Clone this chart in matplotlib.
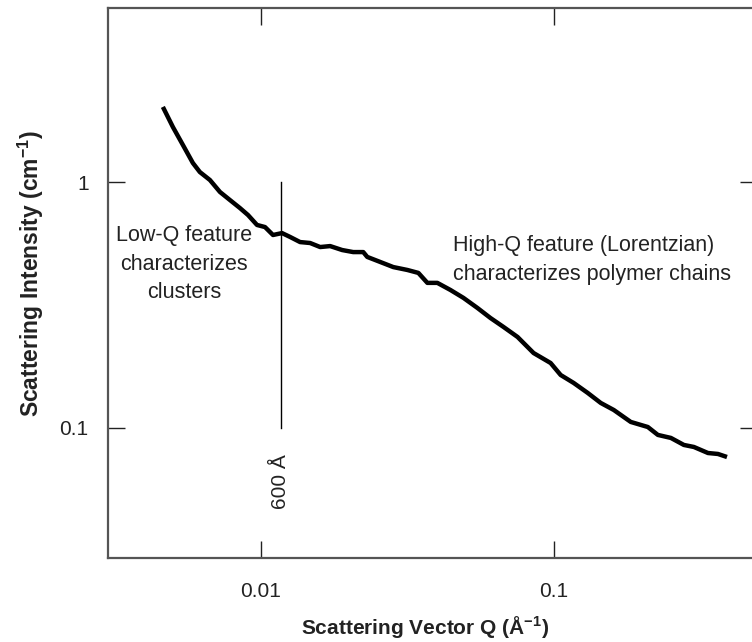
import matplotlib
matplotlib.use("Agg")
import matplotlib.pyplot as plt
from matplotlib.ticker import NullLocator

plt.rcParams['font.family'] = ['Liberation Sans', 'DejaVu Sans']
plt.rcParams['axes.unicode_minus'] = False

q = [0.00462, 0.00500, 0.00541, 0.00585, 0.00618, 0.00669, 0.00724, 0.00783,
     0.00847, 0.00903, 0.00969, 0.01032, 0.01099, 0.01180, 0.01257, 0.01360,
     0.01472, 0.01593, 0.01723, 0.01894, 0.02066, 0.02236, 0.02307, 0.02556,
     0.02832, 0.03162, 0.03450, 0.03703, 0.04006, 0.04439, 0.04918, 0.05492,
     0.06083, 0.06743, 0.07530, 0.08541, 0.09766, 0.1057, 0.1171, 0.1308,
     0.1449, 0.1606, 0.1835, 0.2099, 0.2271, 0.2516, 0.2787, 0.3016, 0.3369,
     0.3644, 0.3913]
intensity = [2.02, 1.673, 1.414, 1.195, 1.098, 1.019, 0.911, 0.845,
             0.784, 0.734, 0.669, 0.656, 0.609, 0.620, 0.598, 0.570,
             0.565, 0.544, 0.549, 0.529, 0.519, 0.519, 0.496, 0.473,
             0.451, 0.439, 0.427, 0.389, 0.389, 0.364, 0.338, 0.3075,
             0.280, 0.2574, 0.2344, 0.2017, 0.1837, 0.1642, 0.1524, 0.1388,
             0.1264, 0.1183, 0.1058, 0.1009, 0.0937, 0.0911, 0.0853, 0.0837, 0.0791,
             0.0784, 0.0762]

marker_q = 0.0117
marker_range = [0.1, 1.0]
xticks = [0.01, 0.1]
xtick_labels = ['0.01', '0.1']
yticks = [0.1, 1]
ytick_labels = ['0.1', '1']

W, H = 752, 642
fig = plt.figure(figsize=(W / 100, H / 100), dpi=100)
ax = fig.add_axes([108 / W, 84 / H, 649 / W, 550 / H])

ax.plot(q, intensity, color='black', lw=3.2, solid_capstyle='butt', solid_joinstyle='round')
ax.plot([marker_q, marker_q], marker_range, color='black', lw=1.0)

ax.set_xscale('log')
ax.set_yscale('log')
ax.set_xlim(0.003, 0.4955)
ax.set_ylim(0.0296, 5.10)

ax.set_xticks(xticks, labels=xtick_labels)
ax.set_yticks(yticks, labels=ytick_labels)
ax.xaxis.set_minor_locator(NullLocator())
ax.yaxis.set_minor_locator(NullLocator())
ax.tick_params(axis='both', which='major', direction='in', length=12, width=1.0,
               top=True, right=True, labelsize=15, colors='#222222')
ax.tick_params(axis='x', pad=17)
ax.tick_params(axis='y', pad=14)

for s in ax.spines.values():
    s.set_color('#555555')
    s.set_linewidth(1.6)

ax.set_xlabel('Scattering Vector Q (Å$^{\\mathregular{-1}}$)', fontsize=15, fontweight='bold',
              color='#222222')
ax.set_ylabel('Scattering Intensity (cm$^{\\mathregular{-1}}$)', fontsize=16.5, fontweight='bold',
              color='#222222')
ax.xaxis.set_label_coords((425 - 108) / 649, (H - 628 - 84) / 550, transform=ax.transAxes)
ax.xaxis.label.set_va('center')
ax.yaxis.set_label_coords((31 - 108) / 649, (H - 274 - 84) / 550, transform=ax.transAxes)
ax.yaxis.label.set_va('center')

def px(x, y):
    return (x / W, 1 - y / H)

fig.text(*px(184, 264), 'Low-Q feature\ncharacterizes\nclusters', ha='center', va='center',
         fontsize=15.5, color='#222222', linespacing=1.45)
fig.text(*px(453, 260), 'High-Q feature (Lorentzian)\ncharacterizes polymer chains',
         ha='left', va='center', fontsize=15.5, color='#222222', linespacing=1.45)
fig.text(*px(281, 482), '600 Å', rotation=90, ha='center', va='center', fontsize=15,
         color='#222222')

fig.savefig('out.png', dpi=100)
